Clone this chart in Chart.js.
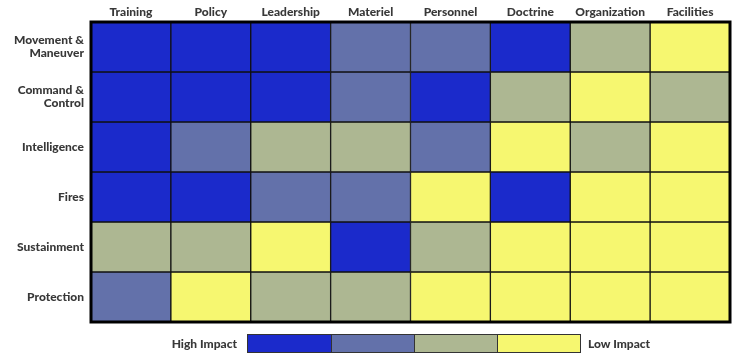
<!DOCTYPE html>
<html>
<head>
<meta charset="utf-8">
<script src="https://cdn.jsdelivr.net/npm/chart.js@4/dist/chart.umd.min.js"></script>
<style>
  html, body { margin: 0; padding: 0; background: #fff; }
  #wrap { position: relative; width: 742px; height: 360px; }
  .lg { position: absolute; font: 900 12px Lato, "Open Sans", sans-serif; color: #383838; top: 335px; line-height: 17px; }
  #bar { position: absolute; left: 247px; top: 334px; height: 19px; display: flex; border: 1px solid #333; box-sizing: border-box; }
  #bar div { width: 83px; height: 100%; box-sizing: border-box; border-left: 1px solid #333; }
  #bar div:first-child { border-left: none; }
</style>
</head>
<body>
<div id="wrap">
  <canvas id="c"></canvas>
  <div class="lg" style="right:505px;">High Impact</div>
  <div id="bar"></div>
  <div class="lg" style="left:588px;">Low Impact</div>
</div>
<script>
// Columns (DOTMLPF-style categories)
const columns = ["Training", "Policy", "Leadership", "Materiel", "Personnel", "Doctrine", "Organization", "Facilities"];
// Rows (warfighting functions)
const rowLabels = [["Movement &", "Maneuver"], ["Command &", "Control"], "Intelligence", "Fires", "Sustainment", "Protection"];
// Impact level per cell: 1 = High Impact ... 4 = Low Impact
const movementManeuver = [1, 1, 1, 2, 2, 1, 3, 4];
const commandControl   = [1, 1, 1, 2, 1, 3, 4, 3];
const intelligence     = [1, 2, 3, 3, 2, 4, 3, 4];
const fires            = [1, 1, 2, 2, 4, 1, 4, 4];
const sustainment      = [3, 3, 4, 1, 3, 4, 4, 4];
const protection       = [2, 4, 3, 3, 4, 4, 4, 4];
const levelColors = ["#1b2acb", "#6371aa", "#adb792", "#f6f770"];
const legendLevels = [1, 2, 3, 4];

const rows = [movementManeuver, commandControl, intelligence, fires, sustainment, protection];

const bar = document.getElementById('bar');
legendLevels.forEach(l => { const d = document.createElement('div'); d.style.background = levelColors[l - 1]; bar.appendChild(d); });

const datasets = rows.map((levels, r) => ({
  label: Array.isArray(rowLabels[r]) ? rowLabels[r].join(' ') : rowLabels[r],
  data: levels.map(() => 1),
  backgroundColor: levels.map(l => levelColors[l - 1]),
  borderColor: '#111',
  borderWidth: 1,
  borderSkipped: false,
  barPercentage: 1,
  categoryPercentage: 1
}));

const frame = {
  id: 'frame',
  afterDatasetsDraw(chart) {
    const a = chart.chartArea, ctx = chart.ctx;
    ctx.save();
    ctx.strokeStyle = '#000';
    ctx.lineWidth = 3;
    ctx.strokeRect(a.left, a.top, a.right - a.left, a.bottom - a.top);
    ctx.restore();
  }
};

const font = { family: 'Lato, "Open Sans", sans-serif', size: 12, weight: '900' };

new Chart(document.getElementById('c'), {
  type: 'bar',
  data: { labels: columns, datasets },
  plugins: [frame],
  options: {
    responsive: true,
    maintainAspectRatio: false,
    animation: false,
    events: [],
    layout: { padding: { left: 0, top: 0, right: 12, bottom: 38 } },
    plugins: { legend: { display: false }, tooltip: { enabled: false } },
    scales: {
      x: {
        type: 'category',
        position: 'top',
        stacked: true,
        grid: { display: false, drawTicks: false },
        border: { display: false },
        ticks: { font, color: '#383838', padding: 3, maxRotation: 0, autoSkip: false },
        afterFit(s) { s.height = 22; }
      },
      y: {
        type: 'linear',
        min: 0, max: 6,
        reverse: true,
        stacked: true,
        grid: { display: false, drawTicks: false },
        border: { display: false },
        afterBuildTicks(s) { s.ticks = rowLabels.map((_, i) => ({ value: i + 0.5 })); },
        ticks: {
          font: { ...font, lineHeight: 1.1 },
          color: '#383838',
          padding: 7,
          autoSkip: false,
          callback: (v, i) => rowLabels[i]
        },
        afterFit(s) { s.width = 91; }
      }
    }
  }
});
</script>
</body>
</html>
